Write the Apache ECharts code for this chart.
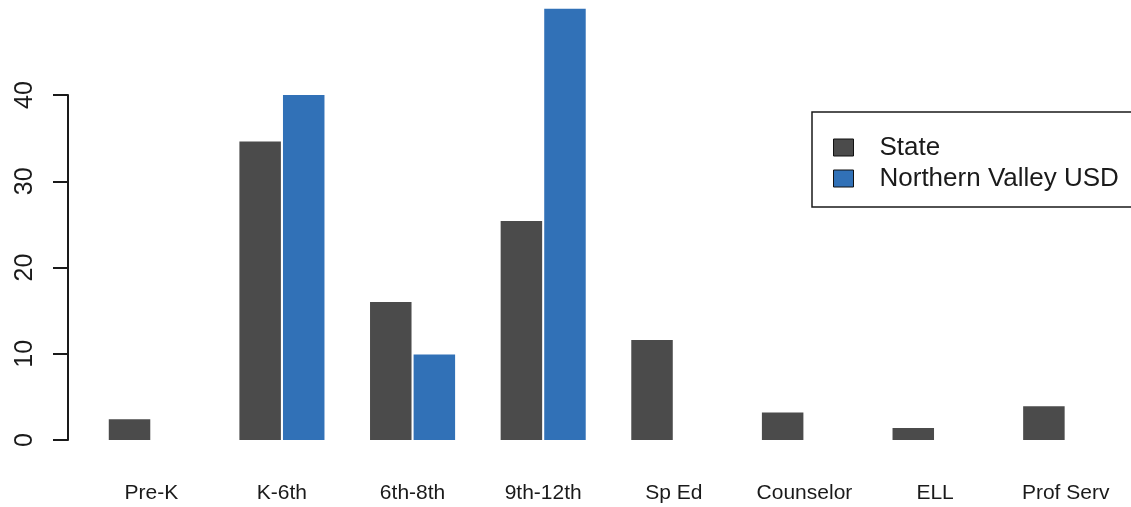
<!DOCTYPE html>
<html>
<head>
<meta charset="utf-8">
<script src="https://cdn.jsdelivr.net/npm/echarts@6/dist/echarts.min.js"></script>
<style>
html,body{margin:0;padding:0;background:#fff;}
#chart{width:1131px;height:507px;}
</style>
</head>
<body>
<div id="chart"></div>
<script>
const categories = ['Pre-K', 'K-6th', '6th-8th', '9th-12th', 'Sp Ed', 'Counselor', 'ELL', 'Prof Serv'];
const stateValues = [2.4, 34.6, 16.0, 25.4, 11.6, 3.2, 1.4, 3.9];
const districtValues = [null, 40.0, 9.9, 50.0, null, null, null, null];
const yTicks = [0, 10, 20, 30, 40];
const seriesNames = ['State', 'Northern Valley USD'];

const FONT = '"Liberation Sans", Arial, Helvetica, sans-serif';
const chart = echarts.init(document.getElementById('chart'));
chart.setOption({
  animation: false,
  backgroundColor: '#ffffff',
  grid: { left: 86, width: 1046, top: 95, bottom: 67, containLabel: false },
  legend: {
    data: seriesNames,
    orient: 'vertical',
    left: 812,
    top: 112,
    padding: [22, 40, 15, 21],
    itemWidth: 20,
    itemHeight: 17,
    itemGap: 4,
    borderColor: '#1a1a1a',
    borderWidth: 1.5,
    backgroundColor: '#ffffff',
    icon: 'rect',
    itemStyle: { borderColor: '#111', borderWidth: 1 },
    textStyle: { fontFamily: FONT, fontSize: 26, color: '#1a1a1a', lineHeight: 27, padding: [0, 0, 0, 21] }
  },
  xAxis: {
    type: 'category',
    data: categories,
    axisLine: { show: false },
    axisTick: { show: false },
    axisLabel: { fontFamily: FONT, fontSize: 21, color: '#1a1a1a', margin: 43, interval: 0 }
  },
  yAxis: {
    type: 'value',
    min: 0,
    max: 40,
    interval: 10,
    offset: 18,
    splitLine: { show: false },
    axisLine: { show: true, lineStyle: { color: '#1a1a1a', width: 2 } },
    axisTick: { show: true, length: 15, lineStyle: { color: '#1a1a1a', width: 2 } },
    axisLabel: {
      fontFamily: FONT, fontSize: 25, color: '#1a1a1a', rotate: 90, margin: 30,
      formatter: function (v) { return yTicks.indexOf(v) >= 0 ? String(v) : ''; }
    }
  },
  series: [
    {
      name: seriesNames[0], type: 'bar', data: stateValues, clip: false,
      barWidth: 41.5, barGap: '5%',
      itemStyle: { color: '#4b4b4b' }
    },
    {
      name: seriesNames[1], type: 'bar', data: districtValues, clip: false,
      barWidth: 41.5, barGap: '5%',
      itemStyle: { color: '#3171b7' }
    }
  ]
});
</script>
</body>
</html>
